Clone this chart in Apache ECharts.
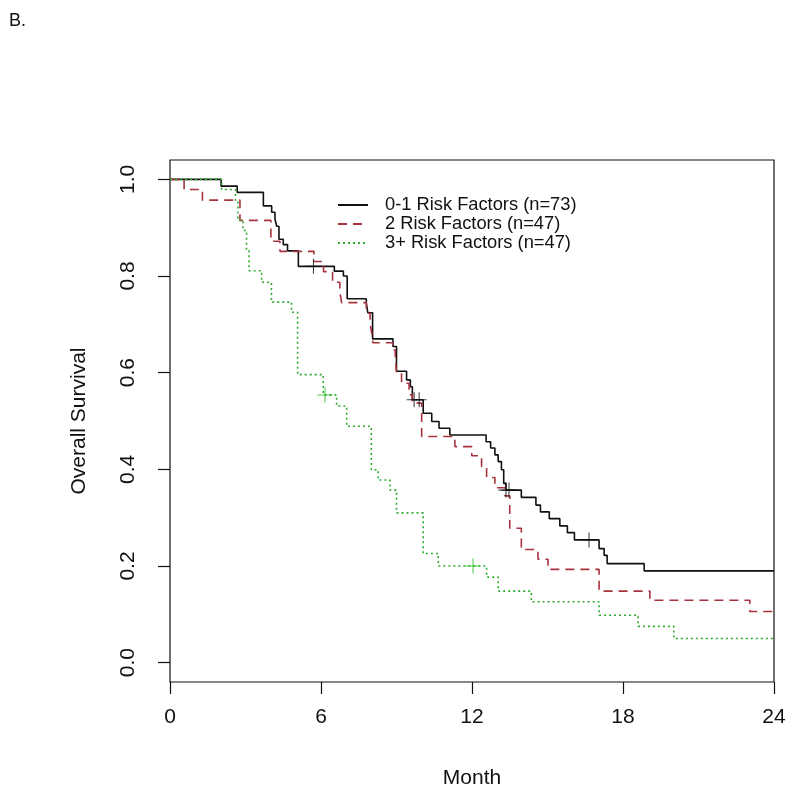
<!DOCTYPE html>
<html><head><meta charset="utf-8">
<script src="https://cdn.jsdelivr.net/npm/echarts@6/dist/echarts.min.js"></script>
<style>html,body{margin:0;padding:0;background:#fff}#c{width:800px;height:802px}</style>
</head><body><div id="c"></div>
<script>
var seriesNames = ['0-1 Risk Factors (n=73)', '2 Risk Factors (n=47)', '3+ Risk Factors (n=47)'];
var xTicks = [0, 6, 12, 18, 24];
var yTicks = [0, 0.2, 0.4, 0.6, 0.8, 1.0];
// [month, survival] step points
var curve01 = [[0,1],[2.03,0.986],[2.67,0.973],[3.71,0.945],[4.04,0.932],[4.17,0.918],[4.24,0.903],[4.33,0.876],[4.5,0.865],[4.67,0.852],[5.1,0.820],[6.53,0.810],[6.89,0.800],[7.04,0.753],[7.8,0.744],[7.86,0.724],[8.05,0.670],[8.86,0.654],[9.0,0.603],[9.4,0.585],[9.55,0.571],[9.63,0.544],[10.06,0.516],[10.4,0.499],[10.69,0.485],[11.12,0.471],[12.56,0.457],[12.74,0.444],[12.91,0.430],[13.04,0.416],[13.17,0.399],[13.26,0.371],[13.35,0.357],[13.96,0.342],[14.54,0.326],[14.72,0.312],[15.07,0.298],[15.49,0.283],[15.79,0.269],[16.07,0.254],[17.05,0.236],[17.25,0.222],[17.37,0.205],[18.84,0.190],[24,0.190]];
var curve2 = [[0,1],[0.56,0.979],[1.29,0.957],[2.78,0.915],[4.01,0.872],[4.37,0.851],[5.72,0.830],[6.1,0.809],[6.46,0.787],[6.75,0.766],[6.82,0.745],[7.8,0.723],[7.95,0.702],[8.02,0.681],[8.06,0.662],[8.85,0.647],[8.95,0.637],[9.0,0.599],[9.2,0.578],[9.5,0.554],[9.63,0.537],[10.0,0.468],[11.32,0.447],[11.99,0.428],[12.38,0.406],[12.58,0.383],[12.91,0.362],[13.31,0.345],[13.5,0.278],[13.96,0.234],[14.62,0.214],[15.02,0.193],[17.05,0.148],[19.07,0.129],[23.04,0.106],[24,0.106]];
var curve3 = [[0,1],[2.05,0.979],[2.6,0.957],[2.7,0.915],[2.9,0.894],[3.04,0.853],[3.14,0.811],[3.64,0.787],[4.03,0.746],[4.83,0.725],[5.07,0.596],[6.09,0.554],[6.62,0.531],[7.02,0.489],[8.0,0.399],[8.27,0.378],[8.74,0.357],[9.0,0.310],[10.06,0.226],[10.66,0.200],[12.58,0.177],[13.04,0.148],[14.36,0.126],[17.05,0.098],[18.6,0.075],[20.02,0.050],[24,0.050]];
var censor01 = [[5.7,0.820],[9.7,0.544],[9.9,0.544],[13.35,0.357],[13.47,0.357],[16.65,0.254]];
var censor3 = [[6.16,0.554],[12.04,0.200]];

var colors = ['#111111', '#a8323e', '#2eaa2e'];
var plus = 'path://M-0.7,-10 L0.7,-10 L0.7,-0.7 L10,-0.7 L10,0.7 L0.7,0.7 L0.7,10 L-0.7,10 L-0.7,0.7 L-10,0.7 L-10,-0.7 L-0.7,-0.7 Z';
var font = 'Liberation Sans, Arial, sans-serif';
var chart = echarts.init(document.getElementById('c'));
chart.setOption({
  animation: false,
  backgroundColor: '#fff',
  title: { text: 'B.', left: 4, top: 7, textStyle: { fontFamily: font, fontSize: 18, fontWeight: 'normal', color: '#111' } },
  grid: { left: 170, top: 160, right: 26, bottom: 120, show: true, borderColor: '#111', borderWidth: 1.2, backgroundColor: 'transparent' },
  legend: {
    data: seriesNames, orient: 'vertical', left: 332, top: 191, itemWidth: 30, itemHeight: 14, itemGap: 1,
    itemStyle: { opacity: 0 },
    textStyle: { fontFamily: font, fontSize: 18.3, color: '#111', padding: [0, 0, 0, 12] }
  },
  xAxis: {
    type: 'value', min: 0, max: 24, name: 'Month', nameLocation: 'middle', nameGap: 86,
    nameTextStyle: { fontFamily: font, fontSize: 21, color: '#111' },
    axisLine: { show: false, onZero: false },
    axisTick: { show: true, length: 12, customValues: xTicks, lineStyle: { color: '#111', width: 1.2 } },
    axisLabel: { customValues: xTicks, margin: 25, fontFamily: font, fontSize: 21, color: '#111' },
    splitLine: { show: false }
  },
  yAxis: {
    type: 'value', min: -0.04, max: 1.04, name: 'Overall Survival', nameLocation: 'middle', nameGap: 80, nameRotate: 90,
    nameTextStyle: { fontFamily: font, fontSize: 21, color: '#111' },
    axisLine: { show: false, onZero: false },
    axisTick: { show: true, length: 12, customValues: yTicks, lineStyle: { color: '#111', width: 1.2 } },
    axisLabel: { customValues: yTicks, rotate: 90, margin: 31, fontFamily: font, fontSize: 21, color: '#111', formatter: function (v) { return v.toFixed(1); } },
    splitLine: { show: false }
  },
  series: [
    { name: seriesNames[0], type: 'line', step: 'end', data: curve01, symbol: 'none', color: colors[0], lineStyle: { color: colors[0], width: 1.6, type: 'solid' } },
    { name: seriesNames[1], type: 'line', step: 'end', data: curve2, symbol: 'none', color: colors[1], lineStyle: { color: colors[1], width: 1.6, type: [9, 6] } },
    { name: seriesNames[2], type: 'line', step: 'end', data: curve3, symbol: 'none', color: colors[2], lineStyle: { color: colors[2], width: 1.6, type: [2, 3] } },
    { name: 'c1', type: 'scatter', data: censor01, symbol: plus, symbolSize: 15, itemStyle: { color: colors[0] }, z: 5 },
    { name: 'c3', type: 'scatter', data: censor3, symbol: plus, symbolSize: 15, itemStyle: { color: '#22bb22' }, z: 5 }
  ]
});
</script></body></html>
